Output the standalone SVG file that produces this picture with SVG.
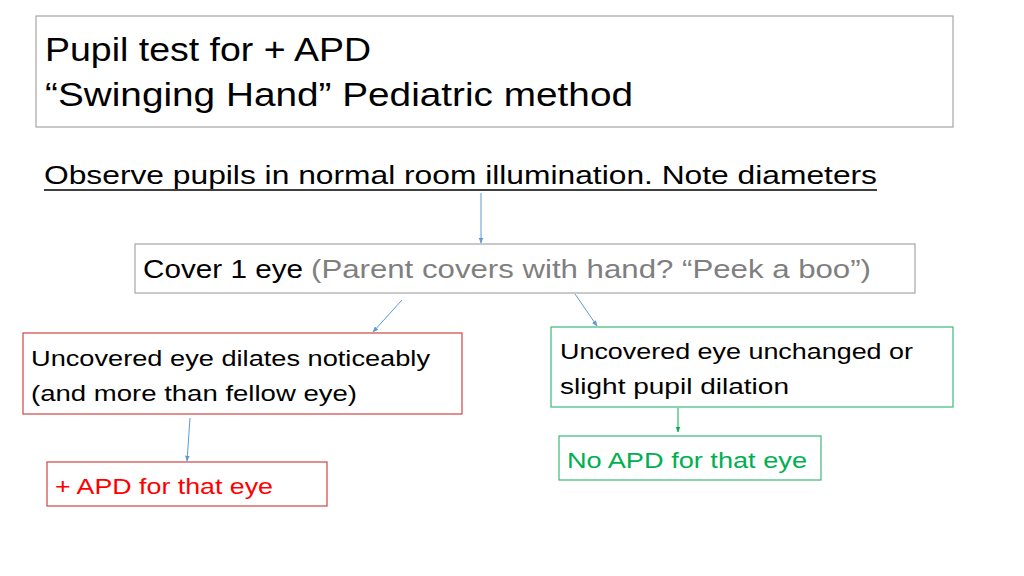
<svg xmlns="http://www.w3.org/2000/svg" width="1024" height="576" viewBox="0 0 1024 576">
<style>
text{font-family:"Liberation Sans",Arial,sans-serif;}
.box{fill:#fff;stroke-width:1.2;}
.gray{stroke:#a6a6a6;}
.red{stroke:#d04545;}
.green{stroke:#3cb878;}
.conn{stroke:#5b9bd5;stroke-width:1;fill:none;}
.gconn{stroke:#00b050;stroke-width:1;fill:none;}
.t{fill:#000;}
</style>
<defs>
<marker id="ab" viewBox="0 0 10 10" refX="9" refY="5" markerWidth="6" markerHeight="6" orient="auto"><path d="M0,1 L10,5 L0,9 z" fill="#5b9bd5"/></marker>
<marker id="ag" viewBox="0 0 10 10" refX="9" refY="5" markerWidth="6" markerHeight="6" orient="auto"><path d="M0,1 L10,5 L0,9 z" fill="#00b050"/></marker>
</defs>
<rect width="1024" height="576" fill="#fff"/>
<g id="title">
<rect class="box gray" x="36" y="16" width="917" height="111"/>
<text x="45" y="61" font-size="33" textLength="326" lengthAdjust="spacingAndGlyphs" class="t">Pupil test for + APD</text>
<text x="45" y="106" font-size="33" textLength="588" lengthAdjust="spacingAndGlyphs" class="t">“Swinging Hand” Pediatric method</text>
</g>
<g id="observe">
<text x="44" y="184" font-size="25" textLength="833" lengthAdjust="spacingAndGlyphs" class="t">Observe pupils in normal room illumination. Note diameters</text>
<line x1="44" y1="190" x2="877" y2="190" stroke="#000" stroke-width="1.6"/>
</g>
<g id="cover">
<rect class="box gray" x="135" y="244" width="780" height="49"/>
<text x="143" y="278" font-size="25" textLength="160" lengthAdjust="spacingAndGlyphs" class="t">Cover 1 eye</text>
<text x="311" y="278" font-size="25" textLength="560" lengthAdjust="spacingAndGlyphs" fill="#7f7f7f">(Parent covers with hand? “Peek a boo”)</text>
</g>
<g id="dilates">
<rect class="box red" x="23" y="333" width="439" height="81"/>
<text x="31" y="366" font-size="22" textLength="399" lengthAdjust="spacingAndGlyphs" class="t">Uncovered eye dilates noticeably</text>
<text x="31" y="401" font-size="22" textLength="326" lengthAdjust="spacingAndGlyphs" class="t">(and more than fellow eye)</text>
</g>
<g id="unchanged">
<rect class="box green" x="551" y="327" width="402" height="80"/>
<text x="560" y="359" font-size="22" textLength="353" lengthAdjust="spacingAndGlyphs" class="t">Uncovered eye unchanged or</text>
<text x="560" y="394" font-size="22" textLength="229" lengthAdjust="spacingAndGlyphs" class="t">slight pupil dilation</text>
</g>
<g id="apd">
<rect class="box red" x="47" y="462" width="280" height="44" stroke="#e05a5a"/>
<text x="55" y="494" font-size="22" textLength="218" lengthAdjust="spacingAndGlyphs" fill="#ff0000">+ APD for that eye</text>
</g>
<g id="noapd">
<rect class="box green" x="559" y="436" width="262" height="44"/>
<text x="567" y="468" font-size="22" textLength="240" lengthAdjust="spacingAndGlyphs" fill="#00b050">No APD for that eye</text>
</g>
<g id="connectors">
<line class="conn" x1="481" y1="193" x2="481" y2="243" marker-end="url(#ab)"/>
<line class="conn" x1="402" y1="300" x2="373" y2="332" marker-end="url(#ab)"/>
<line class="conn" x1="575" y1="294" x2="597" y2="326" marker-end="url(#ab)"/>
<line class="conn" x1="190" y1="418" x2="187" y2="461" marker-end="url(#ab)"/>
<line class="gconn" x1="678" y1="408" x2="678" y2="432" marker-end="url(#ag)"/>
</g>
</svg>
